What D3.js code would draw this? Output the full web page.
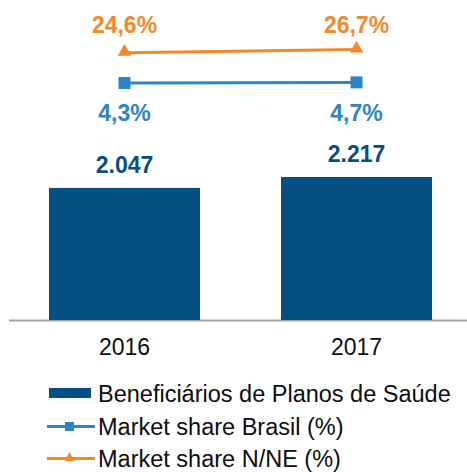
<!DOCTYPE html>
<html>
<head>
<meta charset="utf-8">
<script src="https://cdn.jsdelivr.net/npm/d3@7"></script>
<style>
  html, body { margin: 0; padding: 0; background: #ffffff; }
  svg { display: block; font-family: "Liberation Sans", Arial, sans-serif; }
</style>
</head>
<body>
<svg id="chart" width="467" height="472"></svg>
<script>
// Data
const years = ["2016", "2017"];
const beneficiarios = [2047, 2217];          // thousands
const shareBrasil = [4.3, 4.7];              // %
const shareNNE = [24.6, 26.7];               // %
const seriesNames = [
  "Beneficiários de Planos de Saúde",
  "Market share Brasil (%)",
  "Market share N/NE (%)"
];

const colors = {
  bar: "#064f82",
  brasil: "#2d85c8",
  nne: "#f3892b",
  axis: "#a3a3a3",
  text: "#0d0d0d"
};

const svg = d3.select("#chart");

// Scales
const x = d3.scaleBand()
  .domain(years)
  .range([8.5, 472.5])
  .paddingInner(0.349)
  .paddingOuter(0.1745);

const y = d3.scaleLinear().domain([0, 4960]).range([320, 0]);
const y2 = d3.scaleLinear().domain([0, 60]).range([89.4, 0]);

const fmtInt = v => d3.format(",")(v).replace(/,/g, ".");
const fmtPct = v => d3.format(".1f")(v).replace(".", ",") + "%";

// Baseline
svg.append("line")
  .attr("x1", 9).attr("x2", 467)
  .attr("y1", y(0) + 0.5).attr("y2", y(0) + 0.5)
  .attr("stroke", colors.axis).attr("stroke-width", 2);

// Bars
svg.append("g").selectAll("rect")
  .data(years)
  .join("rect")
  .attr("x", d => x(d))
  .attr("width", x.bandwidth())
  .attr("y", (d, i) => y(beneficiarios[i]))
  .attr("height", (d, i) => y(0) - y(beneficiarios[i]))
  .attr("fill", colors.bar);

// Bar value labels
svg.append("g").selectAll("text")
  .data(years)
  .join("text")
  .attr("x", d => x(d) + x.bandwidth() / 2)
  .attr("y", (d, i) => y(beneficiarios[i]) - 15)
  .attr("text-anchor", "middle")
  .attr("font-size", 23).attr("font-weight", "bold")
  .attr("fill", colors.bar)
  .text((d, i) => fmtInt(beneficiarios[i]));

// Year labels
svg.append("g").selectAll("text")
  .data(years)
  .join("text")
  .attr("x", d => x(d) + x.bandwidth() / 2)
  .attr("y", 355)
  .attr("text-anchor", "middle")
  .attr("font-size", 23)
  .attr("fill", colors.text)
  .text(d => d);

const cx = d => x(d) + x.bandwidth() / 2;

// Market share Brasil line
const lineB = d3.line().x((d, i) => cx(years[i])).y(d => y2(d));
svg.append("path")
  .datum(shareBrasil)
  .attr("d", lineB)
  .attr("fill", "none").attr("stroke", colors.brasil).attr("stroke-width", 3);
svg.append("g").selectAll("rect")
  .data(shareBrasil)
  .join("rect")
  .attr("x", (d, i) => cx(years[i]) - 6)
  .attr("y", d => y2(d) - 6)
  .attr("width", 12).attr("height", 12)
  .attr("fill", colors.brasil);
const brasilLabelY = d3.max(shareBrasil, d => y2(d)) + 38;
svg.append("g").selectAll("text")
  .data(shareBrasil)
  .join("text")
  .attr("x", (d, i) => cx(years[i]))
  .attr("y", brasilLabelY)
  .attr("text-anchor", "middle")
  .attr("font-size", 23).attr("font-weight", "bold")
  .attr("fill", colors.brasil)
  .text(d => fmtPct(d));

// Market share N/NE line
svg.append("path")
  .datum(shareNNE)
  .attr("d", lineB)
  .attr("fill", "none").attr("stroke", colors.nne).attr("stroke-width", 3);
const tri = d3.symbol().type(d3.symbolTriangle).size(80);
svg.append("g").selectAll("path")
  .data(shareNNE)
  .join("path")
  .attr("d", tri)
  .attr("transform", (d, i) => `translate(${cx(years[i])},${y2(d) - 1})`)
  .attr("fill", colors.nne);
const nneLabelY = d3.min(shareNNE, d => y2(d)) - 17;
svg.append("g").selectAll("text")
  .data(shareNNE)
  .join("text")
  .attr("x", (d, i) => cx(years[i]))
  .attr("y", nneLabelY)
  .attr("text-anchor", "middle")
  .attr("font-size", 23).attr("font-weight", "bold")
  .attr("fill", colors.nne)
  .text(d => fmtPct(d));

// Legend
const legendRows = [393, 426.5, 458.5];
const legend = svg.append("g");
seriesNames.forEach((name, i) => {
  const cy = legendRows[i];
  const row = legend.append("g");
  if (i === 0) {
    row.append("rect")
      .attr("x", 49).attr("y", cy - 5)
      .attr("width", 42).attr("height", 10)
      .attr("fill", colors.bar);
  } else {
    const c = i === 1 ? colors.brasil : colors.nne;
    row.append("line")
      .attr("x1", 47).attr("x2", 95)
      .attr("y1", cy).attr("y2", cy)
      .attr("stroke", c).attr("stroke-width", 3);
    if (i === 1) {
      row.append("rect")
        .attr("x", 65).attr("y", cy - 4.5)
        .attr("width", 9).attr("height", 9)
        .attr("fill", c);
    } else {
      row.append("path")
        .attr("d", d3.symbol().type(d3.symbolTriangle).size(45))
        .attr("transform", `translate(69.5,${cy - 0.5})`)
        .attr("fill", c);
    }
  }
  row.append("text")
    .attr("x", 98)
    .attr("y", cy + 8.5)
    .attr("font-size", 23.5)
    .attr("fill", colors.text)
    .text(name);
});
</script>
</body>
</html>
